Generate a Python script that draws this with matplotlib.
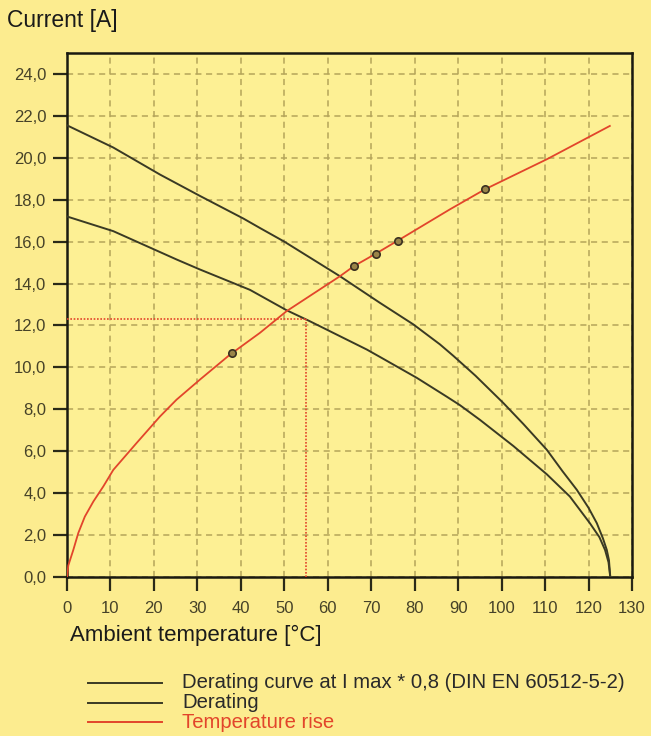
import matplotlib
matplotlib.use('Agg')
import matplotlib.pyplot as plt
import numpy as np

plt.rcParams['font.family'] = ['Liberation Sans', 'DejaVu Sans']

# Derating curve (upper)
temp_derating = [0, 10.65, 21.4, 30.6, 40.6, 44.4, 50, 62.8, 72.0, 79.7, 85.8, 88.9, 94, 100.4,
                 105, 110.4, 114, 117.3, 120, 121.9, 123.3, 124.2, 124.7, 125]
cur_derating = [21.55, 20.49, 19.2, 18.18, 17.1, 16.65, 16.0, 14.35, 13.08, 12.05, 11.1, 10.55, 9.6, 8.3,
                7.3, 6.07, 5.05, 4.16, 3.3, 2.57, 1.85, 1.29, 0.8, 0]

# Derating at I max * 0,8 (lower)
temp_derating08 = [0, 10.65, 25.2, 30.6, 42.1, 50.5, 55.9, 69.0, 72.0, 80.5, 87.4, 90.4, 95, 102.7,
                   110.4, 115.7, 120.3, 122.5, 123.8, 124.6, 125]
cur_derating08 = [17.2, 16.5, 15.15, 14.67, 13.7, 12.73, 12.2, 10.85, 10.5, 9.5, 8.6, 8.2, 7.5, 6.25,
                  4.9, 3.84, 2.57, 1.9, 1.29, 0.7, 0]

# Temperature rise
temp_rise = [0, 0.3, 1.45, 2.6, 4.1, 6.06, 8.35, 10.65, 16.0, 21.4, 25.2, 30.6, 37.5, 44.4, 50.5, 62.8,
             66, 71, 76.6, 88.1, 96.2, 110.4, 124.9]
cur_rise = [0, 0.55, 1.29, 2.1, 2.88, 3.6, 4.32, 5.11, 6.39, 7.66, 8.46, 9.42, 10.61, 11.65, 12.68, 14.35,
            14.83, 15.42, 16.11, 17.54, 18.5, 19.93, 21.52]

# measured points on the temperature rise curve
temp_pts = [37.9, 66, 71, 76.2, 96.2]
cur_pts = [10.69, 14.83, 15.42, 16.03, 18.5]

# operating point marked by dotted lines
op_temp = 55
op_cur = 12.3

x_ticks = list(range(0, 131, 10))
y_ticks = [0, 2, 4, 6, 8, 10, 12, 14, 16, 18, 20, 22, 24]

bg = '#fcec8f'
dark = '#3a3a24'
red = '#e2452b'
tick_col = '#464228'

fig = plt.figure(figsize=(6.51, 7.36), dpi=100, facecolor=bg)
ax = fig.add_axes([67/651, 159/736, 565/651, 524/736])
ax.set_facecolor('#fdf094')

ax.plot(temp_derating, cur_derating, color=dark, lw=1.4, zorder=3)
ax.plot(temp_derating08, cur_derating08, color=dark, lw=1.4, zorder=3)
ax.plot(temp_rise, cur_rise, color=red, lw=1.3, zorder=4)
ax.plot([0, op_temp], [op_cur, op_cur], color=red, lw=1.2, ls=(0, (1, 1)), zorder=3)
ax.plot([op_temp, op_temp], [0, op_cur], color=red, lw=1.2, ls=(0, (1, 1)), zorder=3)
ax.scatter(temp_pts, cur_pts, s=28, facecolor='#9a8448', edgecolor='#3a3020', lw=1.2, zorder=5)

ax.set_xlim(0, 130)
ax.set_ylim(0, 25)
ax.set_xticks(x_ticks)
ax.set_yticks(y_ticks)
ax.set_xticklabels([str(v) for v in x_ticks])
ax.set_yticklabels([f'{v:.1f}'.replace('.', ',') for v in y_ticks])
ax.grid(True, color='#b5a55a', lw=1.1, ls=(0, (4, 3)))
ax.set_axisbelow(True)

for s in ax.spines.values():
    s.set_linewidth(1.8)
    s.set_color('#1a1a10')
ax.tick_params(axis='both', direction='out', length=10, width=1.6, color='#2a2a18',
               labelsize=12, labelcolor=tick_col)
ax.tick_params(axis='y', pad=5)
ax.tick_params(axis='x', pad=7)

fig.text(7/651, 1 - 20/736, 'Current [A]', fontsize=16.5, color='#1a1a1a', va='center', ha='left')
fig.text(70/651, 1 - 635/736, 'Ambient temperature [\u00b0C]', fontsize=16, color='#1a1a1a', va='center', ha='left')

legend_rows = [('Derating curve at I max * 0,8 (DIN EN 60512-5-2)', dark, '#2a2a2a', 683),
               ('Derating', dark, '#2a2a2a', 703),
               ('Temperature rise', red, red, 722)]
for label, lc, tc, ypix in legend_rows:
    yy = 1 - ypix/736
    fig.add_artist(plt.Line2D([88/651, 162/651], [yy, yy], color=lc, lw=1.4))
    fig.text(182/651, yy, label, fontsize=14.6, color=tc, va='center', ha='left')

fig.savefig('out.png', dpi=100, facecolor=bg)
